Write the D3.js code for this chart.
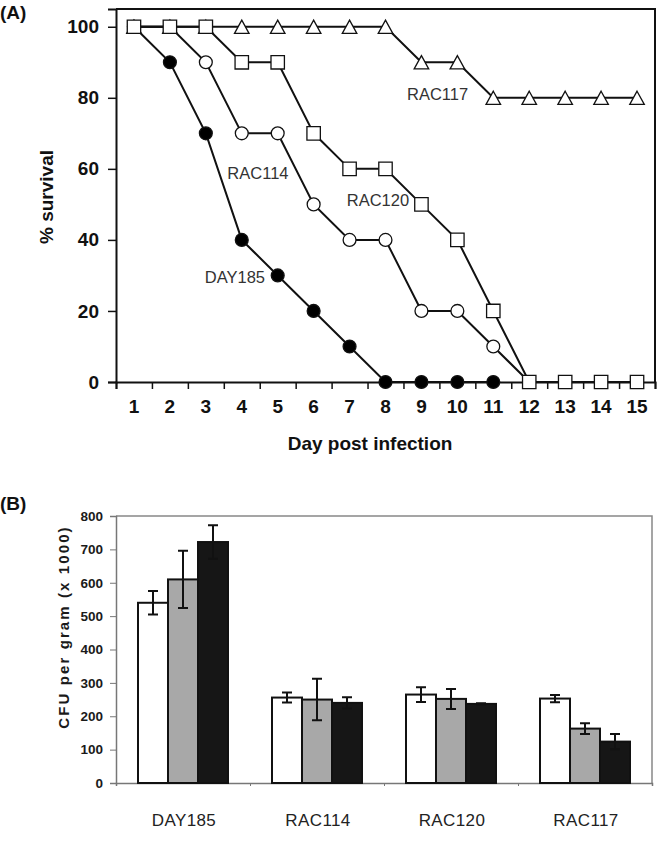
<!DOCTYPE html>
<html><head><meta charset="utf-8">
<script src="https://cdn.jsdelivr.net/npm/d3@7"></script>
<style>
html,body{margin:0;padding:0;background:#fff;}
text{font-family:"Liberation Sans",Arial,sans-serif;}
</style></head>
<body><svg id="c" width="661" height="861"></svg>
<script>
// ---------- Panel A data ----------
const days = [1,2,3,4,5,6,7,8,9,10,11,12,13,14,15];
const survDAY185 = [100,90,70,40,30,20,10,0,0,0,0];
const survRAC114 = [100,100,90,70,70,50,40,40,20,20,10,0];
const survRAC117 = [100,100,100,100,100,100,100,100,90,90,80,80,80,80,80];
const survRAC120 = [100,100,100,90,90,70,60,60,50,40,20,0,0,0,0];
const yTicksA = [0,20,40,60,80,100];
const labelNames = ["DAY185","RAC114","RAC120","RAC117"];
const labelDays = [3.81,4.45,7.79,9.45];
const labelValues = [29.6,58.8,51.2,81];

// ---------- Panel B data ----------
const strains = ["DAY185","RAC114","RAC120","RAC117"];
const barSeries = ["s1","s2","s3"];
const cfuS1 = [540,256,265,253];
const cfuS2 = [610,250,252,163];
const cfuS3 = [722,240,237,124];
const errS1 = [35,15,22,11];
const errS2 = [86,62,30,16];
const errS3 = [50,17,2,23];
const yTicksB = [0,100,200,300,400,500,600,700,800];
const barColors = ["#ffffff","#a8a8a8","#161616"];

const svg = d3.select("#c");

// ================= PANEL A =================
const xA = d3.scaleLinear().domain([0.5,15.5]).range([116,655]);
const yA = d3.scaleLinear().domain([0,105]).range([382,9]);
const gA = svg.append("g");

gA.append("path")
  .attr("d", `M${xA(0.5)},${yA(105)}H${xA(15.5)}V${yA(0)}`)
  .attr("fill","none").attr("stroke","#111").attr("stroke-width",2);

const yAxisA = gA.append("g").attr("transform",`translate(${xA(0.5)},0)`)
  .call(d3.axisLeft(yA).tickValues(yTicksA).tickSize(8).tickPadding(9).tickFormat(d3.format("d")));
yAxisA.select(".domain").attr("stroke","#111").attr("stroke-width",2);
yAxisA.selectAll(".tick line").attr("stroke","#111").attr("stroke-width",1.5);
yAxisA.selectAll(".tick text").attr("font-size",19).attr("font-weight","bold").attr("fill","#111")
  .attr("font-family",'"Liberation Sans",Arial,sans-serif');

const halfTicks = d3.range(0.5,15.6,1);
const xAxisA = gA.append("g").attr("transform",`translate(0,${yA(0)})`)
  .call(d3.axisBottom(xA).tickValues(halfTicks).tickSize(7).tickFormat(""));
xAxisA.select(".domain").attr("stroke","#111").attr("stroke-width",2);
xAxisA.selectAll(".tick line").attr("stroke","#111").attr("stroke-width",1.5);
gA.append("g").selectAll("text").data(days).join("text")
  .attr("x",d=>xA(d)).attr("y",yA(0)+31)
  .attr("text-anchor","middle").attr("font-size",19).attr("font-weight","bold").attr("fill","#111")
  .text(d=>d);

gA.append("text").attr("x",370).attr("y",450).attr("text-anchor","middle")
  .attr("font-size",19).attr("font-weight","bold").attr("fill","#111").text("Day post infection");
gA.append("text").attr("transform","translate(53,197) rotate(-90)").attr("text-anchor","middle")
  .attr("font-size",19).attr("font-weight","bold").attr("fill","#111").text("% survival");
gA.append("text").attr("x",0).attr("y",19).attr("font-size",19).attr("font-weight","bold")
  .attr("fill","#111").text("(A)");

const lineA = d3.line().x((d,i)=>xA(days[i])).y(d=>yA(d));
const triType = {draw(ctx,size){const h=Math.sqrt(size);ctx.moveTo(0,-h/2);ctx.lineTo(h*0.55,h/2);ctx.lineTo(-h*0.55,h/2);ctx.closePath();}};
const seriesA = [
  {vals:survDAY185, sym:d3.symbol().type(d3.symbolCircle).size(130), fill:"#000"},
  {vals:survRAC114, sym:d3.symbol().type(d3.symbolCircle).size(130), fill:"#fff"},
  {vals:survRAC117, sym:d3.symbol().type(triType).size(175), fill:"#fff"},
  {vals:survRAC120, sym:d3.symbol().type(d3.symbolSquare).size(180), fill:"#fff"}
];
seriesA.forEach(s=>{
  gA.append("path").datum(s.vals).attr("d",lineA).attr("fill","none")
    .attr("stroke","#111").attr("stroke-width",2);
});
seriesA.forEach(s=>{
  gA.append("g").selectAll("path").data(s.vals).join("path")
    .attr("transform",(d,i)=>`translate(${xA(days[i])},${yA(d)})`)
    .attr("d",s.sym()).attr("fill",s.fill).attr("stroke","#111").attr("stroke-width",1.3);
});

gA.append("g").selectAll("text").data(labelNames).join("text")
  .attr("x",(d,i)=>xA(labelDays[i])).attr("y",(d,i)=>yA(labelValues[i]))
  .attr("dy","0.36em").attr("text-anchor","middle").attr("font-size",16.5).attr("fill","#333")
  .text(d=>d);

// ================= PANEL B =================
const xB = d3.scaleBand().domain(strains).range([116,652]).padding(0);
const xInner = d3.scaleBand().domain(barSeries).range([22,112]).padding(0);
const yB = d3.scaleLinear().domain([0,800]).range([783,516]);
const gB = svg.append("g");

gB.append("path").attr("d",`M${xB.range()[0]},${yB(800)}H${xB.range()[1]}V${yB(0)}`)
  .attr("fill","none").attr("stroke","#888").attr("stroke-width",1.5);

const yAxisB = gB.append("g").attr("transform",`translate(116,0)`)
  .call(d3.axisLeft(yB).tickValues(yTicksB).tickSize(6).tickPadding(7));
yAxisB.select(".domain").attr("stroke","#777").attr("stroke-width",1.5);
yAxisB.selectAll(".tick line").attr("stroke","#777");
yAxisB.selectAll(".tick text").attr("font-size",13.5).attr("font-weight","bold").attr("fill","#1a1a1a")
  .attr("font-family",'"Liberation Sans",Arial,sans-serif');

const xAxisB = gB.append("g").attr("transform",`translate(0,${yB(0)})`)
  .call(d3.axisBottom(d3.scaleLinear().domain([0,4]).range([116,652])).tickValues([1,2,3,4]).tickSize(3).tickFormat(""));
xAxisB.select(".domain").attr("stroke","#777").attr("stroke-width",1.5);
xAxisB.selectAll(".tick line").attr("stroke","#777");

gB.append("g").selectAll("text").data(strains).join("text")
  .attr("x",d=>xB(d)+xB.bandwidth()/2+1).attr("y",yB(0)+43)
  .attr("text-anchor","middle").attr("font-size",17).attr("letter-spacing",0.4).attr("fill","#222")
  .text(d=>d);

gB.append("text").attr("transform","translate(69,627) rotate(-90)").attr("text-anchor","middle")
  .attr("font-size",15).attr("font-weight","bold").attr("letter-spacing",2.1).attr("fill","#1a1a1a")
  .text("CFU per gram (x 1000)");
gB.append("text").attr("x",0).attr("y",510).attr("font-size",19).attr("font-weight","bold")
  .attr("fill","#111").text("(B)");

const valsB = [cfuS1,cfuS2,cfuS3];
const errsB = [errS1,errS2,errS3];
barSeries.forEach((s,k)=>{
  const g = gB.append("g");
  strains.forEach((st,i)=>{
    const x0 = xB(st)+xInner(s);
    const w = xInner.bandwidth();
    g.append("rect").attr("x",x0).attr("y",yB(valsB[k][i])).attr("width",w)
      .attr("height",yB(0)-yB(valsB[k][i])).attr("fill",barColors[k])
      .attr("stroke","#111").attr("stroke-width",2);
  });
});
barSeries.forEach((s,k)=>{
  strains.forEach((st,i)=>{
    const cx = xB(st)+xInner(s)+xInner.bandwidth()/2;
    const hi = yB(valsB[k][i]+errsB[k][i]), lo = yB(valsB[k][i]-errsB[k][i]);
    gB.append("path").attr("d",`M${cx},${hi}V${lo}M${cx-5},${hi}H${cx+5}M${cx-5},${lo}H${cx+5}`)
      .attr("stroke","#111").attr("stroke-width",2).attr("fill","none");
  });
});
</script></body></html>
